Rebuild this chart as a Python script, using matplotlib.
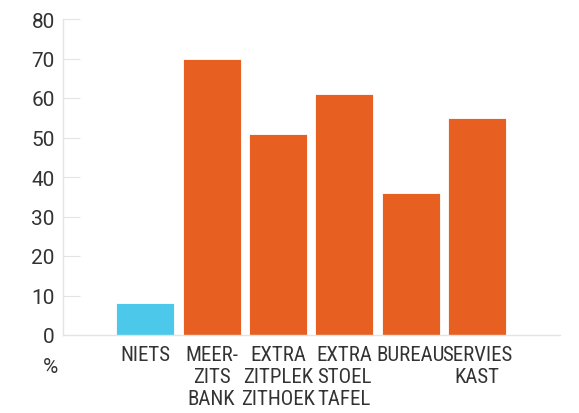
import matplotlib.pyplot as plt
from matplotlib import font_manager

# data
categories = ["NIETS", "MEER-\nZITS\nBANK", "EXTRA\nZITPLEK\nZITHOEK", "EXTRA\nSTOEL\nTAFEL", "BUREAU", "SERVIES\nKAST"]
values = [8, 70, 51, 61, 36, 55]
colors = ["#4BC8EA", "#E86021", "#E86021", "#E86021", "#E86021", "#E86021"]
yticks = [0, 10, 20, 30, 40, 50, 60, 70, 80]

# narrow font if there is one, otherwise Roboto a bit smaller
names = {f.name for f in font_manager.fontManager.ttflist}
narrow = None
for cand in ["Roboto Condensed", "Liberation Sans Narrow"]:
    if cand in names:
        narrow = cand
        break
plt.rcParams["font.family"] = "Roboto"
if narrow:
    xfont, xsize, xspacing = narrow, 15, 1.2
else:
    xfont, xsize, xspacing = "Roboto", 13, 1.4

fig = plt.figure(figsize=(5.79, 4.14), dpi=100)
ax = fig.add_axes([63 / 579, (414 - 336) / 414, (560 - 63) / 579, 316 / 414])

x = list(range(len(categories)))
ax.bar(x, values, width=0.87, color=colors, edgecolor="white", linewidth=0.6)

ax.set_xlim(-1.24, 6.25)
ax.set_ylim(0, 80)
ax.set_yticks(yticks)
ax.set_xticks(x)
ax.set_xticklabels(categories, linespacing=xspacing, family=xfont, fontsize=xsize)

for s in ["top", "right"]:
    ax.spines[s].set_visible(False)
for s in ["left", "bottom"]:
    ax.spines[s].set_color("#e4e4e4")
    ax.spines[s].set_linewidth(1)

ax.tick_params(axis="y", direction="in", length=12, color="#e4e4e4", labelsize=15,
               labelcolor="#333333", pad=6)
ax.tick_params(axis="x", length=0, labelcolor="#333333", pad=7)

fig.text(50 / 579, 1 - 368 / 414, "%", ha="center", va="center", fontsize=15, color="#333333")

fig.savefig("out.png", dpi=100)
